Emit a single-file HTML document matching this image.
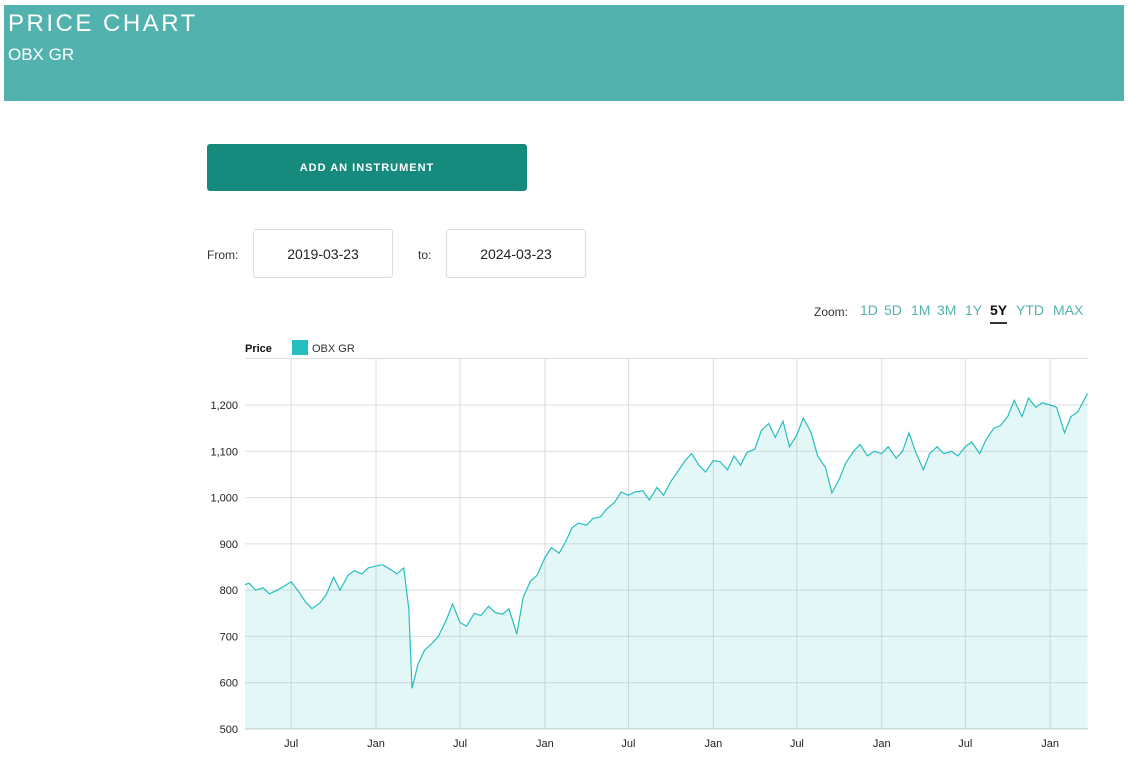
<!DOCTYPE html>
<html><head><meta charset="utf-8"><style>
body{margin:0;width:1128px;height:758px;background:#fff;font-family:"Liberation Sans",sans-serif;position:relative;overflow:hidden}
.hdr{position:absolute;left:4px;top:5px;width:1120px;height:96px;background:#52b3ae;color:#fff}
.hdr h1{margin:0;position:absolute;left:4px;top:5px;font-size:24px;font-weight:normal;letter-spacing:2.5px}
.hdr div{position:absolute;left:4px;top:40px;font-size:17px}
.btn{position:absolute;left:207px;top:144px;width:320px;height:47px;background:#168a7d;border-radius:3px;color:#fff;font-size:11px;font-weight:bold;letter-spacing:1px;text-align:center;line-height:48px}
.lbl{position:absolute;font-size:12px;color:#333;top:248px}
.box{position:absolute;top:229px;width:138px;height:47px;border:1px solid #ddd;border-radius:3px;text-align:center;line-height:48px;font-size:14px;color:#222}
.zoom{position:absolute;top:302px;font-size:14px;color:#52b3ae}
</style></head><body>
<div class="hdr"><h1>PRICE CHART</h1><div>OBX GR</div></div>
<div class="btn">ADD AN INSTRUMENT</div>
<span class="lbl" style="left:207px">From:</span>
<div class="box" style="left:253px">2019-03-23</div>
<span class="lbl" style="left:418px">to:</span>
<div class="box" style="left:446px">2024-03-23</div>
<span class="zoom" style="left:814px;color:#333;font-size:12px;top:305px">Zoom:</span>
<div id="zb"></div>
<svg id="chart" width="1128" height="758" style="position:absolute;left:0;top:0"></svg>
<script>
const zoomLabels=["1D","5D","1M","3M","1Y","5Y","YTD","MAX"];
const zoomX=[860,884,911,937,965,990,1016,1053];
const zb=document.getElementById('zb');
zoomLabels.forEach((t,i)=>{const s=document.createElement('span');s.className='zoom';s.textContent=t;s.style.left=zoomX[i]+'px';
if(t==='5Y'){s.style.color='#111';s.style.fontWeight='bold';s.style.borderBottom='2px solid #333';s.style.paddingBottom='4px';}


zb.appendChild(s);});
const rawDates=["2019-03-23","2019-04-01","2019-04-15","2019-05-01","2019-05-15","2019-06-01","2019-06-15","2019-07-01","2019-07-15","2019-08-01","2019-08-15","2019-09-01","2019-09-15","2019-10-01","2019-10-15","2019-11-01","2019-11-15","2019-12-01","2019-12-15",
"2020-01-01","2020-01-15","2020-02-01","2020-02-15","2020-03-01","2020-03-12","2020-03-19","2020-04-01","2020-04-15","2020-05-01","2020-05-15","2020-06-01","2020-06-15","2020-07-01","2020-07-15","2020-08-01","2020-08-15","2020-09-01","2020-09-15","2020-10-01","2020-10-15","2020-11-01","2020-11-15","2020-12-01","2020-12-15",
"2021-01-01","2021-01-15","2021-02-01","2021-02-15","2021-03-01","2021-03-15","2021-04-01","2021-04-15","2021-05-01","2021-05-15","2021-06-01","2021-06-15","2021-07-01","2021-07-15","2021-08-01","2021-08-15","2021-09-01","2021-09-15","2021-10-01","2021-10-15","2021-11-01","2021-11-15","2021-12-01","2021-12-15",
"2022-01-01","2022-01-15","2022-02-01","2022-02-15","2022-03-01","2022-03-15","2022-04-01","2022-04-15","2022-05-01","2022-05-15","2022-06-01","2022-06-15","2022-07-01","2022-07-15","2022-08-01","2022-08-15","2022-09-01","2022-09-15","2022-10-01","2022-10-15","2022-11-01","2022-11-15","2022-12-01","2022-12-15",
"2023-01-01","2023-01-15","2023-02-01","2023-02-15","2023-03-01","2023-03-15","2023-04-01","2023-04-15","2023-05-01","2023-05-15","2023-06-01","2023-06-15","2023-07-01","2023-07-15","2023-08-01","2023-08-15","2023-09-01","2023-09-15","2023-10-01","2023-10-15","2023-11-01","2023-11-15","2023-12-01","2023-12-15",
"2024-01-01","2024-01-15","2024-02-01","2024-02-15","2024-03-01","2024-03-22"];
const prices=[812,815,800,805,792,800,808,818,800,775,760,772,790,828,800,832,842,835,848,
852,855,845,835,848,760,588,640,670,685,700,735,770,730,722,750,745,765,752,748,760,705,785,820,832,
870,892,880,905,935,945,940,955,958,975,990,1012,1005,1012,1015,995,1022,1005,1035,1055,1080,1095,1070,1055,
1080,1078,1060,1090,1070,1098,1105,1145,1160,1130,1165,1110,1135,1172,1140,1090,1065,1010,1040,1075,1100,1115,1090,1100,
1095,1110,1085,1100,1140,1100,1060,1095,1110,1095,1100,1090,1110,1120,1095,1125,1150,1155,1175,1210,1175,1215,1195,1205,
1200,1195,1140,1175,1185,1225];
const yTicks=[500,600,700,800,900,1000,1100,1200];
const xTickDates=["2019-07-01","2020-01-01","2020-07-01","2021-01-01","2021-07-01","2022-01-01","2022-07-01","2023-01-01","2023-07-01","2024-01-01"];
const xTickLabels=["Jul","Jan","Jul","Jan","Jul","Jan","Jul","Jan","Jul","Jan"];
const L=245,R=1088,T=358,B=729,ymin=500,ymax=1200,yTopPx=405;
const t0=Date.parse("2019-03-23"),t1=Date.parse("2024-03-23");
const xs=d=>L+(Date.parse(d)-t0)/(t1-t0)*(R-L);
const ys=v=>B-(v-ymin)/(ymax-ymin)*(B-yTopPx);
const svg=document.getElementById('chart'),NS="http://www.w3.org/2000/svg";
function mk(tag,attrs,name){const e=document.createElementNS(NS,tag);for(const k in attrs)e.setAttribute(k,attrs[k]);svg.appendChild(e);return e;}
// legend
const lp=mk('text',{x:245,y:352,'font-size':11,'font-weight':'bold',fill:'#111'},'legend-title');lp.textContent='Price';
mk('rect',{x:292,y:340,width:16,height:15,fill:'#26bfbf'},'legend-swatch');
const lt=mk('text',{x:312,y:352,'font-size':11,fill:'#333'},'legend-entry');lt.textContent='OBX GR';
mk('line',{x1:L,y1:T+0.5,x2:R,y2:T+0.5,stroke:'#ddd'},'plot-top-border');
yTicks.forEach(v=>{const y=ys(v);
mk('line',{x1:L,y1:y,x2:R,y2:y,stroke:v===500?'#ccc':'#ddd'},'y-gridline');
const t=mk('text',{x:238,y:y+4,'font-size':11,fill:'#222','text-anchor':'end'},'y-tick-label');t.textContent=v.toLocaleString('en-US');});
xTickDates.forEach((d,i)=>{const x=xs(d);
mk('line',{x1:x,y1:T,x2:x,y2:B,stroke:'#ddd'},'x-gridline');
const t=mk('text',{x:x,y:747,'font-size':11,fill:'#222','text-anchor':'middle'},'x-tick-label');t.textContent=xTickLabels[i];});
let p=rawDates.map((d,i)=>xs(d).toFixed(1)+','+ys(prices[i]).toFixed(1)).join(' L');
mk('path',{d:'M'+xs(rawDates[0])+','+B+' L'+p+' L'+xs(rawDates[rawDates.length-1])+','+B+' Z',fill:'#26bfbf','fill-opacity':0.13},'price-area');
mk('path',{d:'M'+p,fill:'none',stroke:'#26bfbf','stroke-width':1.2},'price-line');
</script>
</body></html>
